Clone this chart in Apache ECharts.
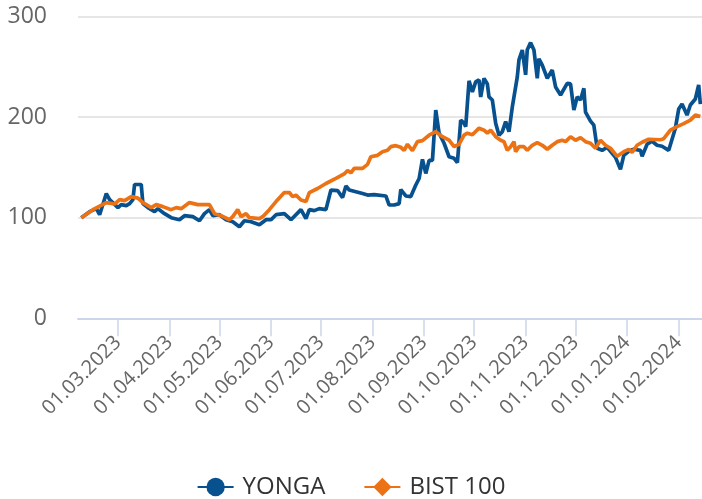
<!DOCTYPE html>
<html>
<head>
<meta charset="utf-8">
<script src="https://cdn.jsdelivr.net/npm/echarts@6/dist/echarts.min.js"></script>
<style>
  html, body { margin: 0; padding: 0; background: #fff; }
  #chart { width: 702px; height: 499px; }
</style>
</head>
<body>
<div id="chart"></div>
<script>
const yongaDates = [
  '2023-02-07', '2023-02-12', '2023-02-16', '2023-02-18', '2023-02-22', '2023-02-24',
  '2023-03-01', '2023-03-03', '2023-03-06', '2023-03-08', '2023-03-10', '2023-03-11',
  '2023-03-15', '2023-03-16', '2023-03-19', '2023-03-23', '2023-03-25', '2023-03-29',
  '2023-04-02', '2023-04-07', '2023-04-10', '2023-04-15', '2023-04-19', '2023-04-22',
  '2023-04-25', '2023-04-27', '2023-05-01', '2023-05-05', '2023-05-09', '2023-05-13',
  '2023-05-16', '2023-05-20', '2023-05-25', '2023-05-29', '2023-06-01', '2023-06-04',
  '2023-06-09', '2023-06-13', '2023-06-19', '2023-06-22', '2023-06-24', '2023-06-27',
  '2023-06-30', '2023-07-04', '2023-07-07', '2023-07-11', '2023-07-14', '2023-07-16',
  '2023-07-18', '2023-07-26', '2023-07-29', '2023-08-02', '2023-08-09', '2023-08-11',
  '2023-08-14', '2023-08-17', '2023-08-18', '2023-08-21', '2023-08-24', '2023-08-27',
  '2023-08-29', '2023-08-31', '2023-09-02', '2023-09-04', '2023-09-06', '2023-09-08',
  '2023-09-10', '2023-09-13', '2023-09-16', '2023-09-19', '2023-09-21', '2023-09-23',
  '2023-09-25', '2023-09-26', '2023-09-28', '2023-09-30', '2023-10-02', '2023-10-04',
  '2023-10-05', '2023-10-07', '2023-10-09', '2023-10-10', '2023-10-12', '2023-10-14',
  '2023-10-16', '2023-10-18', '2023-10-20', '2023-10-22', '2023-10-24', '2023-10-27',
  '2023-10-28', '2023-10-30', '2023-11-01', '2023-11-02', '2023-11-04', '2023-11-06',
  '2023-11-08', '2023-11-09', '2023-11-11', '2023-11-14', '2023-11-17', '2023-11-19',
  '2023-11-22', '2023-11-26', '2023-11-28', '2023-11-30', '2023-12-02', '2023-12-04',
  '2023-12-06', '2023-12-07', '2023-12-10', '2023-12-12', '2023-12-14', '2023-12-17',
  '2023-12-20', '2023-12-23', '2023-12-25', '2023-12-28', '2023-12-30', '2024-01-02',
  '2024-01-05', '2024-01-09', '2024-01-10', '2024-01-13', '2024-01-16', '2024-01-19',
  '2024-01-22', '2024-01-26', '2024-01-30', '2024-02-01', '2024-02-03', '2024-02-06',
  '2024-02-08', '2024-02-11', '2024-02-13', '2024-02-14'
]
const yongaValues = [
  100, 106, 109, 103, 124, 118,
  110, 113, 112, 114, 118, 133,
  133, 114, 110, 106, 109, 104,
  100, 98, 102, 101, 97, 104,
  108, 102, 103, 98, 96, 91,
  97, 96, 93, 98, 98, 103,
  104, 98, 108, 99, 108, 107,
  109, 108, 127.5, 127, 120, 131.5,
  127.5, 124, 122.5, 123, 121.6, 112.6,
  112.6, 114, 128, 121.6, 121, 132.5,
  139, 158, 144, 157, 157, 207,
  184, 174, 160.6, 159, 154.7, 197,
  194, 190.5, 236, 225, 235, 237,
  220, 238.5, 233, 220, 217, 194,
  182, 185.5, 195.5, 185.5, 210, 240,
  256.8, 266.7, 242, 267, 274, 266.7,
  238.6, 258, 251.7, 238.6, 246.8, 230,
  222, 233.6, 233, 207, 220, 217,
  228.6, 205, 196, 192, 169, 167,
  170, 164, 160, 148, 162, 166,
  168, 167, 161, 173, 176, 172,
  171, 167, 189, 208, 213, 202,
  212, 218, 232, 213
]

const bistDates = [
  '2023-02-07', '2023-02-14', '2023-02-22', '2023-02-27', '2023-03-02', '2023-03-05',
  '2023-03-09', '2023-03-13', '2023-03-16', '2023-03-21', '2023-03-24', '2023-03-28',
  '2023-04-02', '2023-04-05', '2023-04-08', '2023-04-13', '2023-04-18', '2023-04-25',
  '2023-04-28', '2023-05-02', '2023-05-07', '2023-05-09', '2023-05-12', '2023-05-14',
  '2023-05-17', '2023-05-19', '2023-05-25', '2023-05-27', '2023-05-31', '2023-06-04',
  '2023-06-09', '2023-06-12', '2023-06-14', '2023-06-16', '2023-06-19', '2023-06-22',
  '2023-06-24', '2023-06-29', '2023-07-04', '2023-07-10', '2023-07-15', '2023-07-17',
  '2023-07-19', '2023-07-21', '2023-07-26', '2023-07-29', '2023-07-31', '2023-08-04',
  '2023-08-07', '2023-08-10', '2023-08-12', '2023-08-15', '2023-08-18', '2023-08-20',
  '2023-08-22', '2023-08-25', '2023-08-28', '2023-08-31', '2023-09-04', '2023-09-08',
  '2023-09-12', '2023-09-16', '2023-09-19', '2023-09-22', '2023-09-25', '2023-09-27',
  '2023-09-30', '2023-10-04', '2023-10-07', '2023-10-09', '2023-10-11', '2023-10-14',
  '2023-10-17', '2023-10-19', '2023-10-21', '2023-10-23', '2023-10-25', '2023-10-26',
  '2023-10-28', '2023-10-31', '2023-11-02', '2023-11-05', '2023-11-08', '2023-11-11',
  '2023-11-14', '2023-11-17', '2023-11-20', '2023-11-23', '2023-11-25', '2023-11-28',
  '2023-12-01', '2023-12-04', '2023-12-07', '2023-12-10', '2023-12-13', '2023-12-16',
  '2023-12-19', '2023-12-22', '2023-12-26', '2023-12-30', '2024-01-02', '2024-01-04',
  '2024-01-07', '2024-01-10', '2024-01-14', '2024-01-21', '2024-01-23', '2024-01-27',
  '2024-01-31', '2024-02-04', '2024-02-08', '2024-02-11', '2024-02-12', '2024-02-14'
]
const bistValues = [
  100, 108, 115, 113.6, 118, 117,
  121, 119.5, 115, 110, 113, 111,
  108, 110, 109, 115, 113, 113,
  104, 102, 98, 101, 108, 101,
  104, 100, 99, 101, 108, 116,
  125, 125, 121, 122.5, 117.6, 116,
  125, 129, 134, 139, 143.5, 147,
  144.6, 149, 149, 153, 160.6, 162,
  165.6, 167, 170.6, 171.6, 170, 167,
  173, 166.6, 175.6, 176.6, 182, 185.5,
  180.5, 177, 170.6, 173, 182, 184,
  182.5, 189, 187, 184, 187, 180.5,
  177, 175.6, 167, 170.6, 175.6, 165.6,
  170.6, 170.6, 167, 172, 174.6, 172,
  168, 172, 175.6, 177, 175.6, 180.5,
  177, 179.6, 175.6, 174, 169, 177,
  172, 169, 161, 165.6, 168, 165,
  172, 175, 178, 177.5, 178.5, 187,
  190.5, 193.5, 197, 202, 203.8, 200.5
]

const yTicks = [0, 100, 200, 300]

const font = 'Open Sans'
const blue = '#08518f'
const orange = '#ec7216'

function pad(n) {
  return n < 10 ? '0' + n : '' + n
}

function pairs(dates, values) {
  return dates.map((d, i) => [d, values[i]])
}

const chart = echarts.init(document.getElementById('chart'))

const option = {
  animation: false,
  backgroundColor: '#ffffff',
  grid: {
    left: 78,
    right: 0,
    top: 16.5,
    bottom: 180.7,
    outerBoundsMode: 'none',
  },
  legend: {
    left: 'center',
    top: 470,
    itemWidth: 36,
    itemHeight: 23,
    itemGap: 38,
    textStyle: {
      fontFamily: font,
      fontSize: 24,
      color: '#333333',
      padding: [0, 0, 0, 4],
    },
    data: ['YONGA', 'BIST 100'],
  },
  xAxis: {
    type: 'time',
    min: '2023-02-05',
    max: '2024-02-15',
    minInterval: 28 * 24 * 3600 * 1000,
    maxInterval: 31 * 24 * 3600 * 1000,
    axisLine: {
      lineStyle: { color: '#ccd6eb', width: 2 },
    },
    axisTick: {
      show: true,
      length: 18,
      lineStyle: { color: '#ccd6eb', width: 1.5 },
    },
    splitLine: { show: false },
    axisLabel: {
      rotate: 45,
      margin: 21,
      fontFamily: font,
      fontSize: 20,
      color: '#666666',
      hideOverlap: false,
      showMinLabel: false,
      showMaxLabel: false,
      formatter: (v) => {
        const d = new Date(v)
        return pad(d.getDate()) + '.' + pad(d.getMonth() + 1) + '.' + d.getFullYear()
      },
    },
  },
  yAxis: {
    type: 'value',
    min: yTicks[0],
    max: yTicks[yTicks.length - 1],
    interval: 100,
    axisLine: { show: false },
    axisTick: { show: false },
    axisLabel: {
      margin: 31,
      fontFamily: font,
      fontSize: 23,
      color: '#666666',
    },
    splitLine: {
      lineStyle: { color: '#e6e6e6', width: 2 },
    },
  },
  series: [
    {
      name: 'YONGA',
      type: 'line',
      data: pairs(yongaDates, yongaValues),
      color: blue,
      symbol: 'circle',
      symbolSize: 12,
      showSymbol: false,
      lineStyle: { width: 3.7 },
      z: 2,
    },
    {
      name: 'BIST 100',
      type: 'line',
      data: pairs(bistDates, bistValues),
      color: orange,
      symbol: 'diamond',
      symbolSize: 14,
      showSymbol: false,
      lineStyle: { width: 3.7 },
      z: 3,
    },
  ],
}

chart.setOption(option)
</script>
</body>
</html>
